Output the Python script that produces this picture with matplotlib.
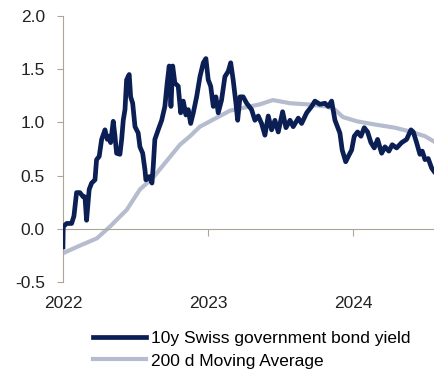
import matplotlib
matplotlib.use("Agg")
import matplotlib.pyplot as plt

# 10y Swiss government bond yield: years after 1 Jan 2022, value in %
yield_t = [0.000, 0.002, 0.026, 0.060, 0.076, 0.094, 0.117, 0.140, 0.152, 0.163,
           0.181, 0.198, 0.221, 0.232, 0.250, 0.267, 0.290, 0.306, 0.319, 0.329,
           0.347, 0.359, 0.370, 0.393, 0.405, 0.416, 0.428, 0.439, 0.457, 0.467,
           0.481, 0.497, 0.519, 0.531, 0.550, 0.566, 0.572, 0.595, 0.614, 0.623,
           0.634, 0.657, 0.681, 0.703, 0.719, 0.733, 0.745, 0.757, 0.772, 0.795,
           0.812, 0.830, 0.848, 0.864, 0.881, 0.899, 0.922, 0.945, 0.968, 0.986,
           1.002, 1.019, 1.037, 1.055, 1.071, 1.094, 1.117, 1.140, 1.157, 1.174,
           1.193, 1.205, 1.221, 1.243, 1.267, 1.301, 1.324, 1.347, 1.370, 1.393,
           1.416, 1.439, 1.462, 1.485, 1.515, 1.538, 1.566, 1.588, 1.623, 1.646,
           1.681, 1.715, 1.738, 1.772, 1.807, 1.830, 1.853, 1.876, 1.910, 1.926,
           1.950, 1.968, 1.991, 2.009, 2.032, 2.055, 2.078, 2.101, 2.124, 2.147,
           2.170, 2.198, 2.221, 2.248, 2.271, 2.301, 2.336, 2.370, 2.400, 2.416,
           2.439, 2.462, 2.478, 2.497, 2.519, 2.543, 2.559]
yield_v = [-0.17, 0.02, 0.05, 0.05, 0.12, 0.34, 0.34, 0.30, 0.30, 0.08,
           0.37, 0.43, 0.46, 0.65, 0.68, 0.84, 0.93, 0.84, 0.87, 0.81,
           1.01, 0.87, 0.71, 0.70, 0.84, 1.02, 1.12, 1.40, 1.45, 1.24,
           1.18, 0.96, 0.90, 0.77, 0.71, 0.55, 0.46, 0.49, 0.43, 0.59,
           0.84, 0.93, 1.02, 1.15, 1.37, 1.53, 1.15, 1.53, 1.37, 1.34,
           1.09, 1.20, 1.07, 1.12, 0.99, 1.09, 1.24, 1.43, 1.56, 1.60,
           1.40, 1.34, 1.15, 1.24, 1.09, 1.21, 1.43, 1.48, 1.56, 1.40,
           1.18, 1.02, 1.24, 1.24, 1.18, 1.12, 1.02, 1.06, 0.99, 0.88,
           1.06, 0.93, 1.02, 0.91, 1.10, 0.95, 1.02, 0.96, 1.04, 0.99,
           1.09, 1.15, 1.20, 1.17, 1.18, 1.15, 1.20, 1.02, 0.90, 0.74,
           0.63, 0.68, 0.74, 0.87, 0.91, 0.87, 0.95, 0.91, 0.81, 0.76,
           0.84, 0.71, 0.77, 0.73, 0.79, 0.76, 0.81, 0.84, 0.93, 0.91,
           0.81, 0.70, 0.73, 0.65, 0.66, 0.57, 0.54]

# 200 d moving average
ma_t = [0.000, 0.097, 0.234, 0.324, 0.441, 0.531, 0.621, 0.717, 0.807, 0.876,
        0.945, 1.014, 1.152, 1.221, 1.359, 1.448, 1.566, 1.681, 1.819, 1.876,
        1.931, 2.028, 2.152, 2.290, 2.405, 2.497, 2.559]
ma_v = [-0.23, -0.17, -0.09, 0.02, 0.18, 0.37, 0.48, 0.64, 0.79, 0.87,
        0.96, 1.01, 1.11, 1.13, 1.17, 1.21, 1.18, 1.17, 1.15, 1.12,
        1.05, 1.01, 0.98, 0.95, 0.91, 0.87, 0.82]

years = [2022, 2023, 2024]
yticks = [-0.5, 0.0, 0.5, 1.0, 1.5, 2.0]

plt.rcParams.update({'font.family': 'Liberation Sans', 'font.size': 12.5})
plt.rcParams['axes.unicode_minus'] = False

fig = plt.figure(figsize=(4.34, 3.72), dpi=100)
ax = fig.add_axes([0.145, 0.242, 0.855, 0.715])

ax.plot([2022 + t for t in yield_t], yield_v, color='#0b1f55', linewidth=3.4,
        solid_joinstyle='round', label='10y Swiss government bond yield', zorder=3)
ax.plot([2022 + t for t in ma_t], ma_v, color='#b5bccd', linewidth=3.0,
        label='200 d Moving Average', zorder=2)

ax.set_xlim(2022, 2024.559)
ax.set_ylim(-0.5, 2.0)
ax.set_yticks(yticks)
ax.set_yticklabels([f"{v:.1f}" for v in yticks])

spine_col = '#aca496'
ax.spines['top'].set_visible(False)
ax.spines['right'].set_visible(False)
ax.spines['left'].set_color(spine_col)
ax.spines['bottom'].set_color(spine_col)
ax.spines['bottom'].set_position(('data', 0))
ax.tick_params(axis='y', direction='out', length=4, color=spine_col, labelcolor='#222222', pad=9)
ax.set_xticks(years)
ax.tick_params(axis='x', direction='out', length=5, color=spine_col, labelbottom=False)

# year labels at the bottom of the plot area
sec = ax.secondary_xaxis(0)
sec.set_xticks(years)
sec.set_xticklabels([str(y) for y in years])
sec.spines['bottom'].set_visible(False)
sec.tick_params(length=0, pad=10, labelcolor='#222222')

fig.legend(loc='upper left', bbox_to_anchor=(0.199, 0.129), frameon=False,
           handlelength=3.05, handletextpad=0.3, labelspacing=0.42,
           borderaxespad=0, fontsize=12.5)

fig.savefig('out.png', dpi=100)
